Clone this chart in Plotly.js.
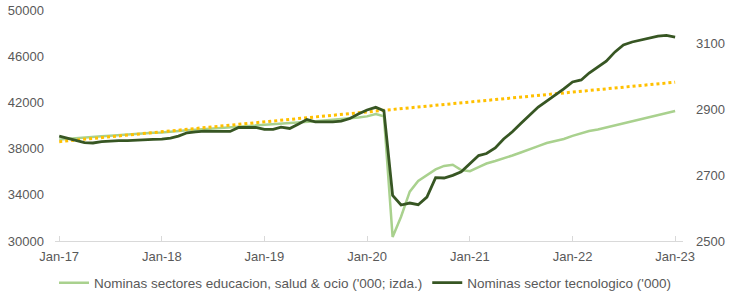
<!DOCTYPE html>
<html>
<head>
<meta charset="utf-8">
<script src="https://cdn.plot.ly/plotly-3.0.1.min.js"></script>
<style>html,body{margin:0;padding:0;background:#fff;}#chart{width:730px;height:300px;}</style>
</head>
<body>
<div id="chart"></div>
<script>
// Monthly categories Jan-17 .. Jan-23
var startYear = 2017, nMonths = 73;
var months = [];
for (var i = 0; i < nMonths; i++) {
  var y = startYear + Math.floor(i / 12), m = (i % 12) + 1;
  months.push(y + '-' + (m < 10 ? '0' + m : m) + '-01');
}

// Nominas sectores educacion, salud & ocio ('000; izda.) - left axis
var eduHealthLeisure = [
  38780, 38850, 38900, 38960, 39010, 39060, 39120, 39180, 39190, 39250, 39320, 39370,
  39400, 39480, 39530, 39580, 39640, 39690, 39740, 39800, 39830, 39890, 39950, 40000,
  40040, 40080, 40130, 40200, 40260, 40310, 40370, 40440, 40490, 40560, 40630, 40700,
  40790, 41000, 40800, 30350, 32100, 34270, 35200, 35700, 36200, 36500, 36600, 36150,
  36050, 36400, 36710, 36930, 37140, 37400, 37660, 37970, 38220, 38480, 38660, 38830,
  39100, 39350, 39520, 39650, 39830, 40000, 40220, 40390, 40560, 40740, 40910, 41080,
  41260
];

// Nominas sector tecnologico ('000) - right axis
var techSector = [
  2818, 2812, 2805, 2798, 2797, 2801, 2803, 2804, 2804, 2806, 2807, 2808,
  2809, 2812, 2818, 2828, 2831, 2833, 2832, 2833, 2832, 2844, 2845, 2844,
  2838, 2838, 2845, 2841, 2854, 2868, 2861, 2860, 2861, 2863, 2871, 2885,
  2897, 2905, 2895, 2638, 2609, 2615, 2610, 2633, 2692, 2691, 2699, 2710,
  2736, 2759, 2765, 2782, 2809, 2831, 2856, 2882, 2906, 2924, 2942, 2961,
  2982, 2988, 3009, 3027, 3045, 3073, 3094, 3103, 3109, 3113, 3121, 3123,
  3118
];

// Pre-pandemic trend of the left series (dotted)
var trendDates = ['2017-01-01', '2023-01-01'];
var trendValues = [38600, 43750];

var tickDates = ['2017-01-01','2018-01-01','2019-01-01','2020-01-01','2021-01-01','2022-01-01','2023-01-01'];
var tickLabels = ['Jan-17','Jan-18','Jan-19','Jan-20','Jan-21','Jan-22','Jan-23'];
var leftTicks = [30000, 34000, 38000, 42000, 46000, 50000];
var rightTicks = [2500, 2700, 2900, 3100];

var nameLeft = "Nominas sectores educacion, salud & ocio ('000; izda.)";
var nameRight = "Nominas sector tecnologico ('000)";

var traces = [
  {x: months, y: eduHealthLeisure, type: 'scatter', mode: 'lines', name: nameLeft,
   line: {color: '#A9D18E', width: 2.5}, yaxis: 'y'},
  {x: trendDates, y: trendValues, type: 'scatter', mode: 'lines', showlegend: false,
   line: {color: '#FFC000', width: 3, dash: 'dot'}, yaxis: 'y', hoverinfo: 'skip'},
  {x: months, y: techSector, type: 'scatter', mode: 'lines', name: nameRight,
   line: {color: '#375623', width: 2.8}, yaxis: 'y2'}
];

var textColor = '#595959';
var layout = {
  width: 730, height: 300,
  margin: {l: 55, r: 47, t: 10, b: 59, autoexpand: false},
  paper_bgcolor: '#ffffff', plot_bgcolor: '#ffffff',
  font: {family: 'Arial, "Liberation Sans", sans-serif', size: 13, color: textColor},
  showlegend: true,
  legend: {orientation: 'h', x: 0.5, xanchor: 'center', xref: 'container',
           y: 0.057, yanchor: 'middle', yref: 'container',
           font: {size: 13.5, color: textColor}, itemwidth: 30, tracegroupgap: 0},
  xaxis: {
    type: 'date', range: ['2016-12-17', '2023-01-29'],
    tickvals: tickDates, ticktext: tickLabels,
    showgrid: false, zeroline: false, automargin: false,
    showline: true, linecolor: '#D9D9D9', linewidth: 1,
    ticks: 'inside', ticklen: 5, tickcolor: '#D9D9D9', tickwidth: 1,
    ticklabelstandoff: 3,
    tickfont: {size: 13, color: textColor}
  },
  yaxis: {
    range: [30000, 50000], tickvals: leftTicks, ticktext: leftTicks.map(String),
    showgrid: false, zeroline: false, showline: false, ticks: '', automargin: false,
    ticklabelstandoff: 10, tickfont: {size: 13, color: textColor}
  },
  yaxis2: {
    range: [2500, 3200], tickvals: rightTicks, ticktext: rightTicks.map(String),
    overlaying: 'y', side: 'right', automargin: false,
    showgrid: false, zeroline: false, showline: false, ticks: '',
    ticklabelstandoff: 12, tickfont: {size: 13, color: textColor}
  }
};

Plotly.newPlot('chart', traces, layout, {staticPlot: true, displayModeBar: false});
</script>
</body>
</html>
